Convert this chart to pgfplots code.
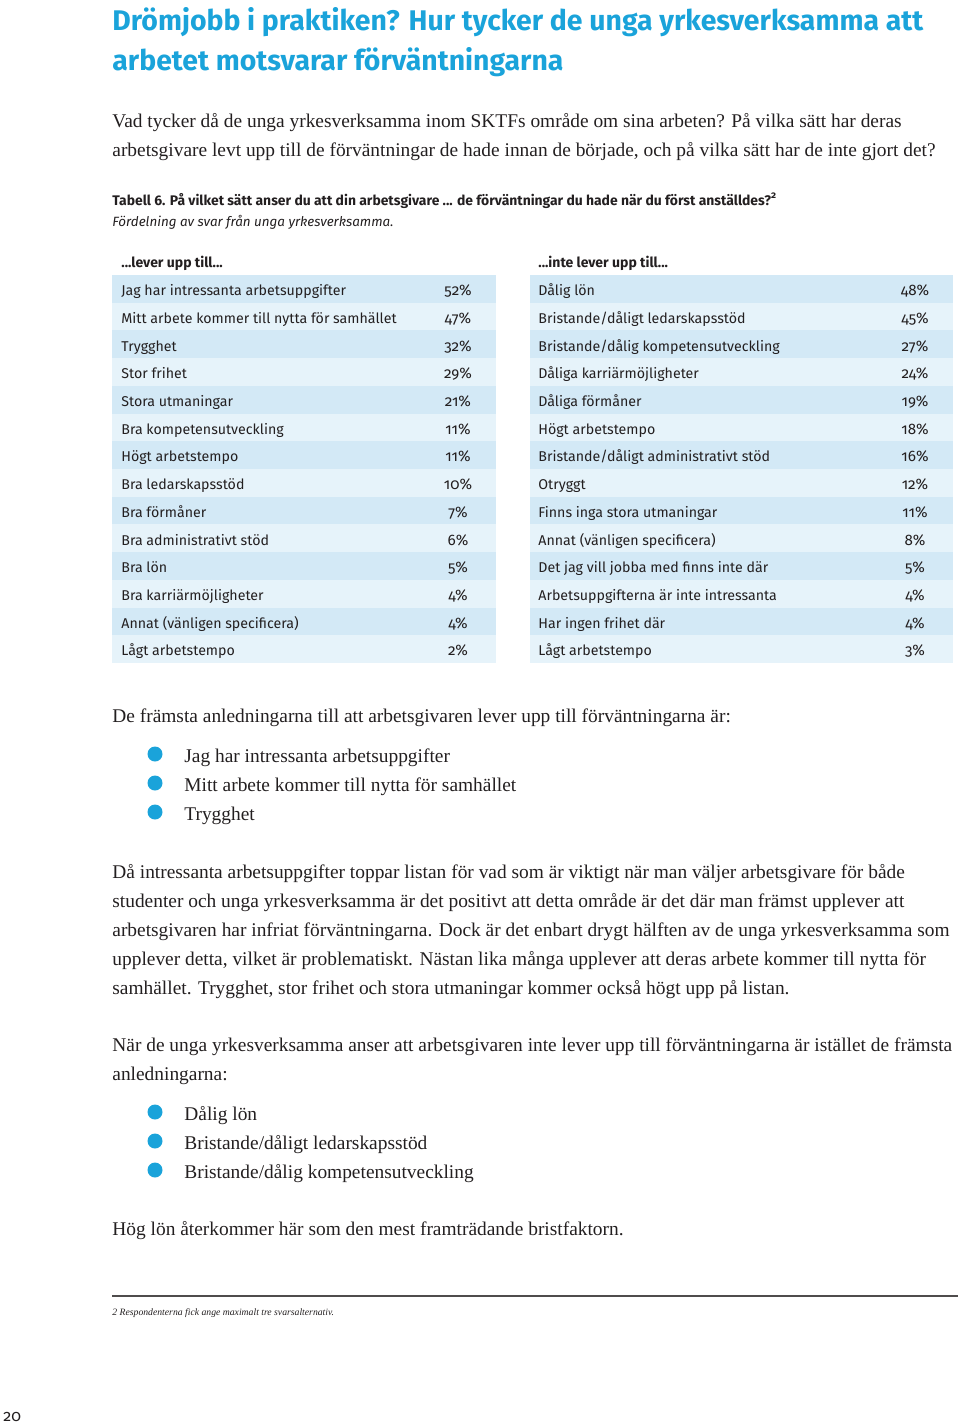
\documentclass[border=0pt]{standalone}
\usepackage{fontspec}
\setmainfont{Liberation Serif}
\setsansfont{Fira Sans}[Numbers=OldStyle]
\usepackage{pgfplots}
\pgfplotsset{compat=1.18}
\usepackage{pgfplotstable}
\definecolor{cy}{HTML}{1AA3DA}
\definecolor{bandA}{HTML}{D3E9F6}
\definecolor{bandB}{HTML}{E6F3FA}
\definecolor{ink}{HTML}{231F20}

\pgfplotstableread[col sep=semicolon]{
idx;label;val
1;Jag har intressanta arbetsuppgifter;52
2;Mitt arbete kommer till nytta för samhället;47
3;Trygghet;32
4;Stor frihet;29
5;Stora utmaningar;21
6;Bra kompetensutveckling;11
7;Högt arbetstempo;11
8;Bra ledarskapsstöd;10
9;Bra förmåner;7
10;Bra administrativt stöd;6
11;Bra lön;5
12;Bra karriärmöjligheter;4
13;Annat (vänligen specificera);4
14;Lågt arbetstempo;2
}\tabL

\pgfplotstableread[col sep=semicolon]{
idx;label;val
1;Dålig lön;48
2;Bristande/dåligt ledarskapsstöd;45
3;Bristande/dålig kompetensutveckling;27
4;Dåliga karriärmöjligheter;24
5;Dåliga förmåner;19
6;Högt arbetstempo;18
7;Bristande/dåligt administrativt stöd;16
8;Otryggt;12
9;Finns inga stora utmaningar;11
10;Annat (vänligen specificera);8
11;Det jag vill jobba med finns inte där;5
12;Arbetsuppgifterna är inte intressanta;4
13;Har ingen frihet där;4
14;Lågt arbetstempo;3
}\tabR

\newcommand\tabfont{\sffamily\fontsize{7.1pt}{8.5pt}\selectfont}
\newcommand\valfont{\sffamily\fontsize{7.6pt}{9pt}\selectfont}
\newcommand\bodyfont{\fontsize{9.7pt}{12pt}\selectfont}

\pgfplotsset{
  rowtable/.style={
    anchor=north west, scale only axis, hide axis, clip=false,
    height=194pt, ymin=0.5, ymax=14.5, y dir=reverse, xmin=0,
  },
  labelplot/.style={draw=none, mark=none, nodes near coords, point meta=explicit symbolic,
    every node near coord/.append style={anchor=base west, inner sep=0pt, yshift=-3.4pt, font=\tabfont, text=ink}},
  valplot/.style={draw=none, mark=none, nodes near coords={\pgfplotspointmeta\%}, point meta=explicit symbolic,
    every node near coord/.append style={anchor=base, inner sep=0pt, yshift=-3.4pt, font=\valfont, text=ink}},
}

\begin{document}
\begin{tikzpicture}
\path[use as bounding box] (0,0) rectangle (480pt,-713pt);

% left table
\begin{axis}[rowtable, at={(56pt,-137.5pt)}, width=192pt, xmax=384]
\pgfplotsinvokeforeach{1,3,5,7,9,11,13}{\fill[bandA] (axis cs:0,#1-0.5) rectangle (axis cs:384,#1+0.5);}
\pgfplotsinvokeforeach{2,4,6,8,10,12,14}{\fill[bandB] (axis cs:0,#1-0.5) rectangle (axis cs:384,#1+0.5);}
\addplot[labelplot] table[x expr=9, y=idx, meta=label]{\tabL};
\addplot[valplot] table[x expr=346, y=idx, meta=val]{\tabL};
\end{axis}

% right table
\begin{axis}[rowtable, at={(265pt,-137.5pt)}, width=211.5pt, xmax=423]
\pgfplotsinvokeforeach{1,3,5,7,9,11,13}{\fill[bandA] (axis cs:0,#1-0.5) rectangle (axis cs:423,#1+0.5);}
\pgfplotsinvokeforeach{2,4,6,8,10,12,14}{\fill[bandB] (axis cs:0,#1-0.5) rectangle (axis cs:423,#1+0.5);}
\addplot[labelplot] table[x expr=8, y=idx, meta=label]{\tabR};
\addplot[valplot] table[x expr=385, y=idx, meta=val]{\tabR};
\end{axis}

\begin{scope}[x=0.5pt,y=-0.5pt, every node/.style={inner sep=0pt, anchor=base west, text=ink}]
% title
\node[text=cy, font=\sffamily\bfseries\fontsize{14.2pt}{17pt}\selectfont] at (112,30) {Drömjobb i praktiken? Hur tycker de unga yrkesverksamma att};
\node[text=cy, font=\sffamily\bfseries\fontsize{14.2pt}{17pt}\selectfont] at (112,70) {arbetet motsvarar förväntningarna};
% intro
\node[font=\bodyfont] at (112,127) {Vad tycker då de unga yrkesverksamma inom SKTFs område om sina arbeten? På vilka sätt har deras};
\node[font=\bodyfont] at (112,156) {arbetsgivare levt upp till de förväntningar de hade innan de började, och på vilka sätt har de inte gjort det?};
% table caption
\node[font=\sffamily\bfseries\fontsize{6.95pt}{9pt}\selectfont] at (112,205) {Tabell 6. På vilket sätt anser du att din arbetsgivare ... de förväntningar du hade när du först anställdes?\textsuperscript{2}};
\node[font=\sffamily\itshape\fontsize{6.7pt}{9pt}\selectfont] at (112,226) {Fördelning av svar från unga yrkesverksamma.};
\node[font=\sffamily\bfseries\fontsize{7pt}{9pt}\selectfont] at (121,267) {...lever upp till...};
\node[font=\sffamily\bfseries\fontsize{7pt}{9pt}\selectfont] at (538,267) {...inte lever upp till...};
% text below
\node[font=\bodyfont] at (112,722) {De främsta anledningarna till att arbetsgivaren lever upp till förväntningarna är:};
\foreach \yy/\tt in {762/Jag har intressanta arbetsuppgifter, 791/Mitt arbete kommer till nytta för samhället, 820/Trygghet, 1120/Dålig lön, 1149/Bristande\slash dåligt ledarskapsstöd, 1178/Bristande\slash dålig kompetensutveckling}{
  \fill[cy] (155,\yy-8) circle (7.5);
  \node[font=\bodyfont] at (184,\yy) {\tt};
}
\node[font=\bodyfont] at (112,878) {Då intressanta arbetsuppgifter toppar listan för vad som är viktigt när man väljer arbetsgivare för både};
\node[font=\bodyfont] at (112,907) {studenter och unga yrkesverksamma är det positivt att detta område är det där man främst upplever att};
\node[font=\bodyfont] at (112,936) {arbetsgivaren har infriat förväntningarna. Dock är det enbart drygt hälften av de unga yrkesverksamma som};
\node[font=\bodyfont] at (112,965) {upplever detta, vilket är problematiskt. Nästan lika många upplever att deras arbete kommer till nytta för};
\node[font=\bodyfont] at (112,994) {samhället. Trygghet, stor frihet och stora utmaningar kommer också högt upp på listan.};
\node[font=\bodyfont] at (112,1051) {När de unga yrkesverksamma anser att arbetsgivaren inte lever upp till förväntningarna är istället de främsta};
\node[font=\bodyfont] at (112,1080) {anledningarna:};
\node[font=\bodyfont] at (112,1235) {Hög lön återkommer här som den mest framträdande bristfaktorn.};
% footnote
\draw[ink!80, line width=0.75pt] (112,1296) -- (958,1296);
\node[font=\itshape\fontsize{4.85pt}{6pt}\selectfont] at (112,1315) {2 Respondenterna fick ange maximalt tre svarsalternativ.};
\node[font=\sffamily\fontsize{8pt}{9pt}\selectfont] at (3,1421) {20};
\end{scope}
\end{tikzpicture}
\end{document}
